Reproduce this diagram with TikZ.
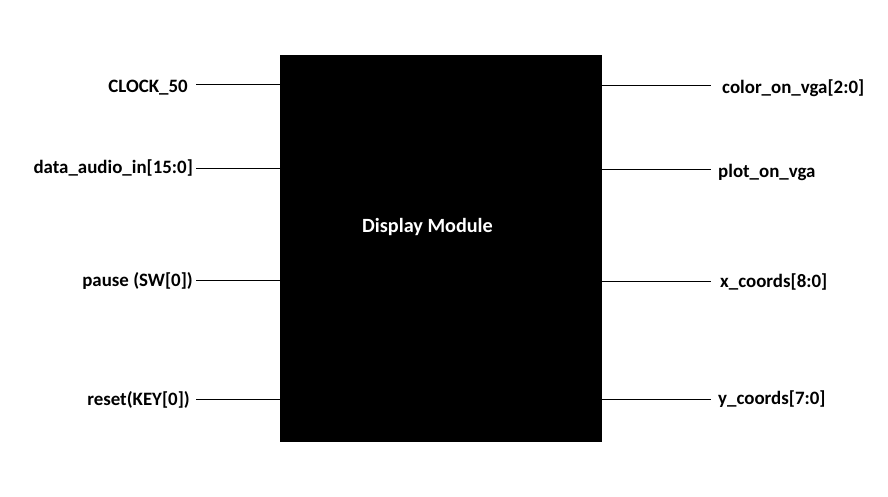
\documentclass[tikz,border=0pt]{standalone}
\usepackage{fontspec}
\setmainfont{Carlito}
\usetikzlibrary{calc,positioning}

\begin{document}
\begin{tikzpicture}[
  x=1pt,y=-1pt,
  font=\fontsize{18.9}{22}\selectfont\bfseries,
  wire/.style={draw=black,line width=1pt},
  inlbl/.style={anchor=base east,inner sep=0pt},
  outlbl/.style={anchor=base west,inner sep=0pt},
  block/.style={fill=black,draw=none,minimum width=322pt,minimum height=387pt,anchor=north west,inner sep=0pt}
]
  \useasboundingbox[fill=white] (0,0) rectangle (888,497);

  \node[block] (dm) at (280,55) {};
  \node[text=white,font=\fontsize{20.2}{24}\selectfont\bfseries] (title) at (427.5,227) {Display Module};

  % inputs
  \coordinate (clkpin) at (196,84.5);
  \coordinate (audpin) at (196,168.5);
  \coordinate (paupin) at (196,280.5);
  \coordinate (rstpin) at (196,399.5);
  \node[inlbl] (clk) at ($(clkpin)+(-8,8)$) {CLOCK\_50};
  \node[inlbl] (aud) at ($(audpin)+(-3,5)$) {data\_audio\_in[15:0]};
  \node[inlbl] (pau) at ($(paupin)+(-3,6)$) {pause (SW[0])};
  \node[inlbl] (rst) at ($(rstpin)+(-6,6)$) {reset(KEY[0])};
  \draw[wire] (clkpin) -- (clkpin -| dm.west);
  \draw[wire] (audpin) -- (audpin -| dm.west);
  \draw[wire] (paupin) -- (paupin -| dm.west);
  \draw[wire] (rstpin) -- (rstpin -| dm.west);

  % outputs
  \coordinate (colpin) at (711,85.5);
  \coordinate (plotpin) at (711,169.5);
  \coordinate (xpin) at (711,281.5);
  \coordinate (ypin) at (711,399.5);
  \node[outlbl] (col) at ($(colpin)+(11,8)$) {color\_on\_vga[2:0]};
  \node[outlbl] (plot) at ($(plotpin)+(7,8)$) {plot\_on\_vga};
  \node[outlbl] (xc) at ($(xpin)+(9,6)$) {x\_coords[8:0]};
  \node[outlbl] (yc) at ($(ypin)+(7,5)$) {y\_coords[7:0]};
  \draw[wire] (dm.east |- colpin) -- (colpin);
  \draw[wire] (dm.east |- plotpin) -- (plotpin);
  \draw[wire] (dm.east |- xpin) -- (xpin);
  \draw[wire] (dm.east |- ypin) -- (ypin);
\end{tikzpicture}
\end{document}
